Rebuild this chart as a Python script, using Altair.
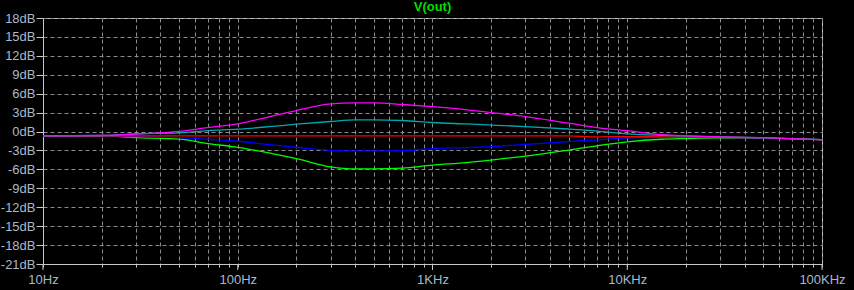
import altair as alt
import pandas as pd

title_text = "V(out)"

freqs = [10, 20, 30, 50, 70, 100, 150, 200, 300, 400, 500, 700, 1000, 1500, 2000,
         3000, 5000, 7000, 10000, 15000, 20000, 30000, 50000, 100000]

magenta = [-0.68, -0.63, -0.40, 0.03, 0.63, 1.22, 2.46, 3.33, 4.37, 4.56, 4.56, 4.29, 3.94, 3.44, 3.00,
           2.38, 1.32, 0.63, 0.13, -0.50, -0.68, -0.84, -0.98, -1.32]
cyan = [-0.68, -0.63, -0.37, -0.20, 0.16, 0.37, 0.81, 1.16, 1.59, 1.86, 1.86, 1.75, 1.43, 1.20, 1.03,
        0.79, 0.40, 0.08, -0.37, -0.59, -0.68, -0.84, -1.00, -1.27]
red = [-0.68, -0.68, -0.68, -0.68, -0.68, -0.68, -0.68, -0.68, -0.68, -0.68, -0.68, -0.68, -0.68, -0.68, -0.68,
       -0.68, -0.68, -0.84, -0.80, -0.85, -0.87, -0.92, -1.00, -1.27]
blue = [-0.68, -0.68, -0.80, -0.95, -1.22, -1.54, -2.13, -2.49, -2.98, -3.06, -3.06, -3.02, -2.70, -2.54, -2.38,
        -2.03, -1.59, -1.32, -1.00, -0.92, -0.90, -0.92, -1.03, -1.27]
green = [-0.68, -0.68, -0.95, -1.19, -1.90, -2.50, -3.49, -4.29, -5.60, -5.92, -5.92, -5.80, -5.32, -4.92, -4.52,
         -3.89, -2.94, -2.27, -1.63, -1.22, -1.11, -1.00, -1.03, -1.27]

series_names = ["green", "blue", "red", "cyan", "magenta"]
series_vals = [green, blue, red, cyan, magenta]
series_colors = ["#00ff00", "#0000ff", "#ff0000", "#00a8b0", "#ff00ff"]

y_ticks = list(range(-21, 19, 3))
x_grid = [m * 10 ** d for d in range(1, 5) for m in range(1, 10)] + [100000]
x_major = [10, 100, 1000, 10000, 100000]

rows = []
for name, vals in zip(series_names, series_vals):
    for i, (f, v) in enumerate(zip(freqs, vals)):
        rows.append({"series": name, "f": f, "db": v, "order": i})
df = pd.DataFrame(rows)

font = "Liberation Sans"
label_color = "#a8b8cc"

x_scale = alt.Scale(type="log", domain=[10, 100000], nice=False)
y_scale = alt.Scale(domain=[-21, 18], nice=False, zero=False)

lines = alt.Chart(df).mark_line(strokeWidth=1.3, interpolate="monotone").encode(
    x=alt.X("f:Q", scale=x_scale, title=None,
            axis=alt.Axis(values=x_grid, labelOverlap=False, labelFlush=False,
                          labelExpr="datum.value == 10 ? '10Hz' : datum.value == 100 ? '100Hz' : datum.value == 1000 ? '1KHz' : datum.value == 10000 ? '10KHz' : datum.value == 100000 ? '100KHz' : ''",
                          tickSize=3, labelPadding=6)),
    y=alt.Y("db:Q", scale=y_scale, title=None,
            axis=alt.Axis(values=y_ticks, labelExpr="datum.value + 'dB'", labelFlush=False,
                          labelOverlap=False, tickSize=7, labelPadding=1)),
    color=alt.Color("series:N", scale=alt.Scale(domain=series_names, range=series_colors), legend=None),
    order="order:Q",
    detail="series:N",
)

major_df = pd.DataFrame({"f": x_major})
major_ticks = alt.Chart(major_df).mark_rule(color="#c8c8c8", strokeWidth=1).encode(
    x=alt.X("f:Q", scale=x_scale),
    y=alt.value(246),
    y2=alt.value(252),
)

title_mark = alt.Chart(pd.DataFrame({"t": [title_text]})).mark_text(
    color="#00dd00", fontSize=13, fontWeight="bold", font=font,
    align="center", baseline="bottom",
).encode(text="t:N", x=alt.value(389.5), y=alt.value(-4))

chart = alt.layer(lines, major_ticks, title_mark).properties(
    width=779, height=246,
    autosize=alt.AutoSizeParams(type="none"),
    padding={"left": 43, "top": 18, "right": 32, "bottom": 26},
    background="#000000",
).configure_view(stroke="#c8c8c8", strokeWidth=1).configure_axis(
    grid=True, gridColor="#8c8c8c", gridDash=[4, 3], gridWidth=1,
    domainColor="#c8c8c8", tickColor="#c8c8c8",
    labelColor=label_color, labelFont=font, labelFontSize=13,
)

chart.save("out.html", embed_options={"renderer": "svg", "actions": False})
